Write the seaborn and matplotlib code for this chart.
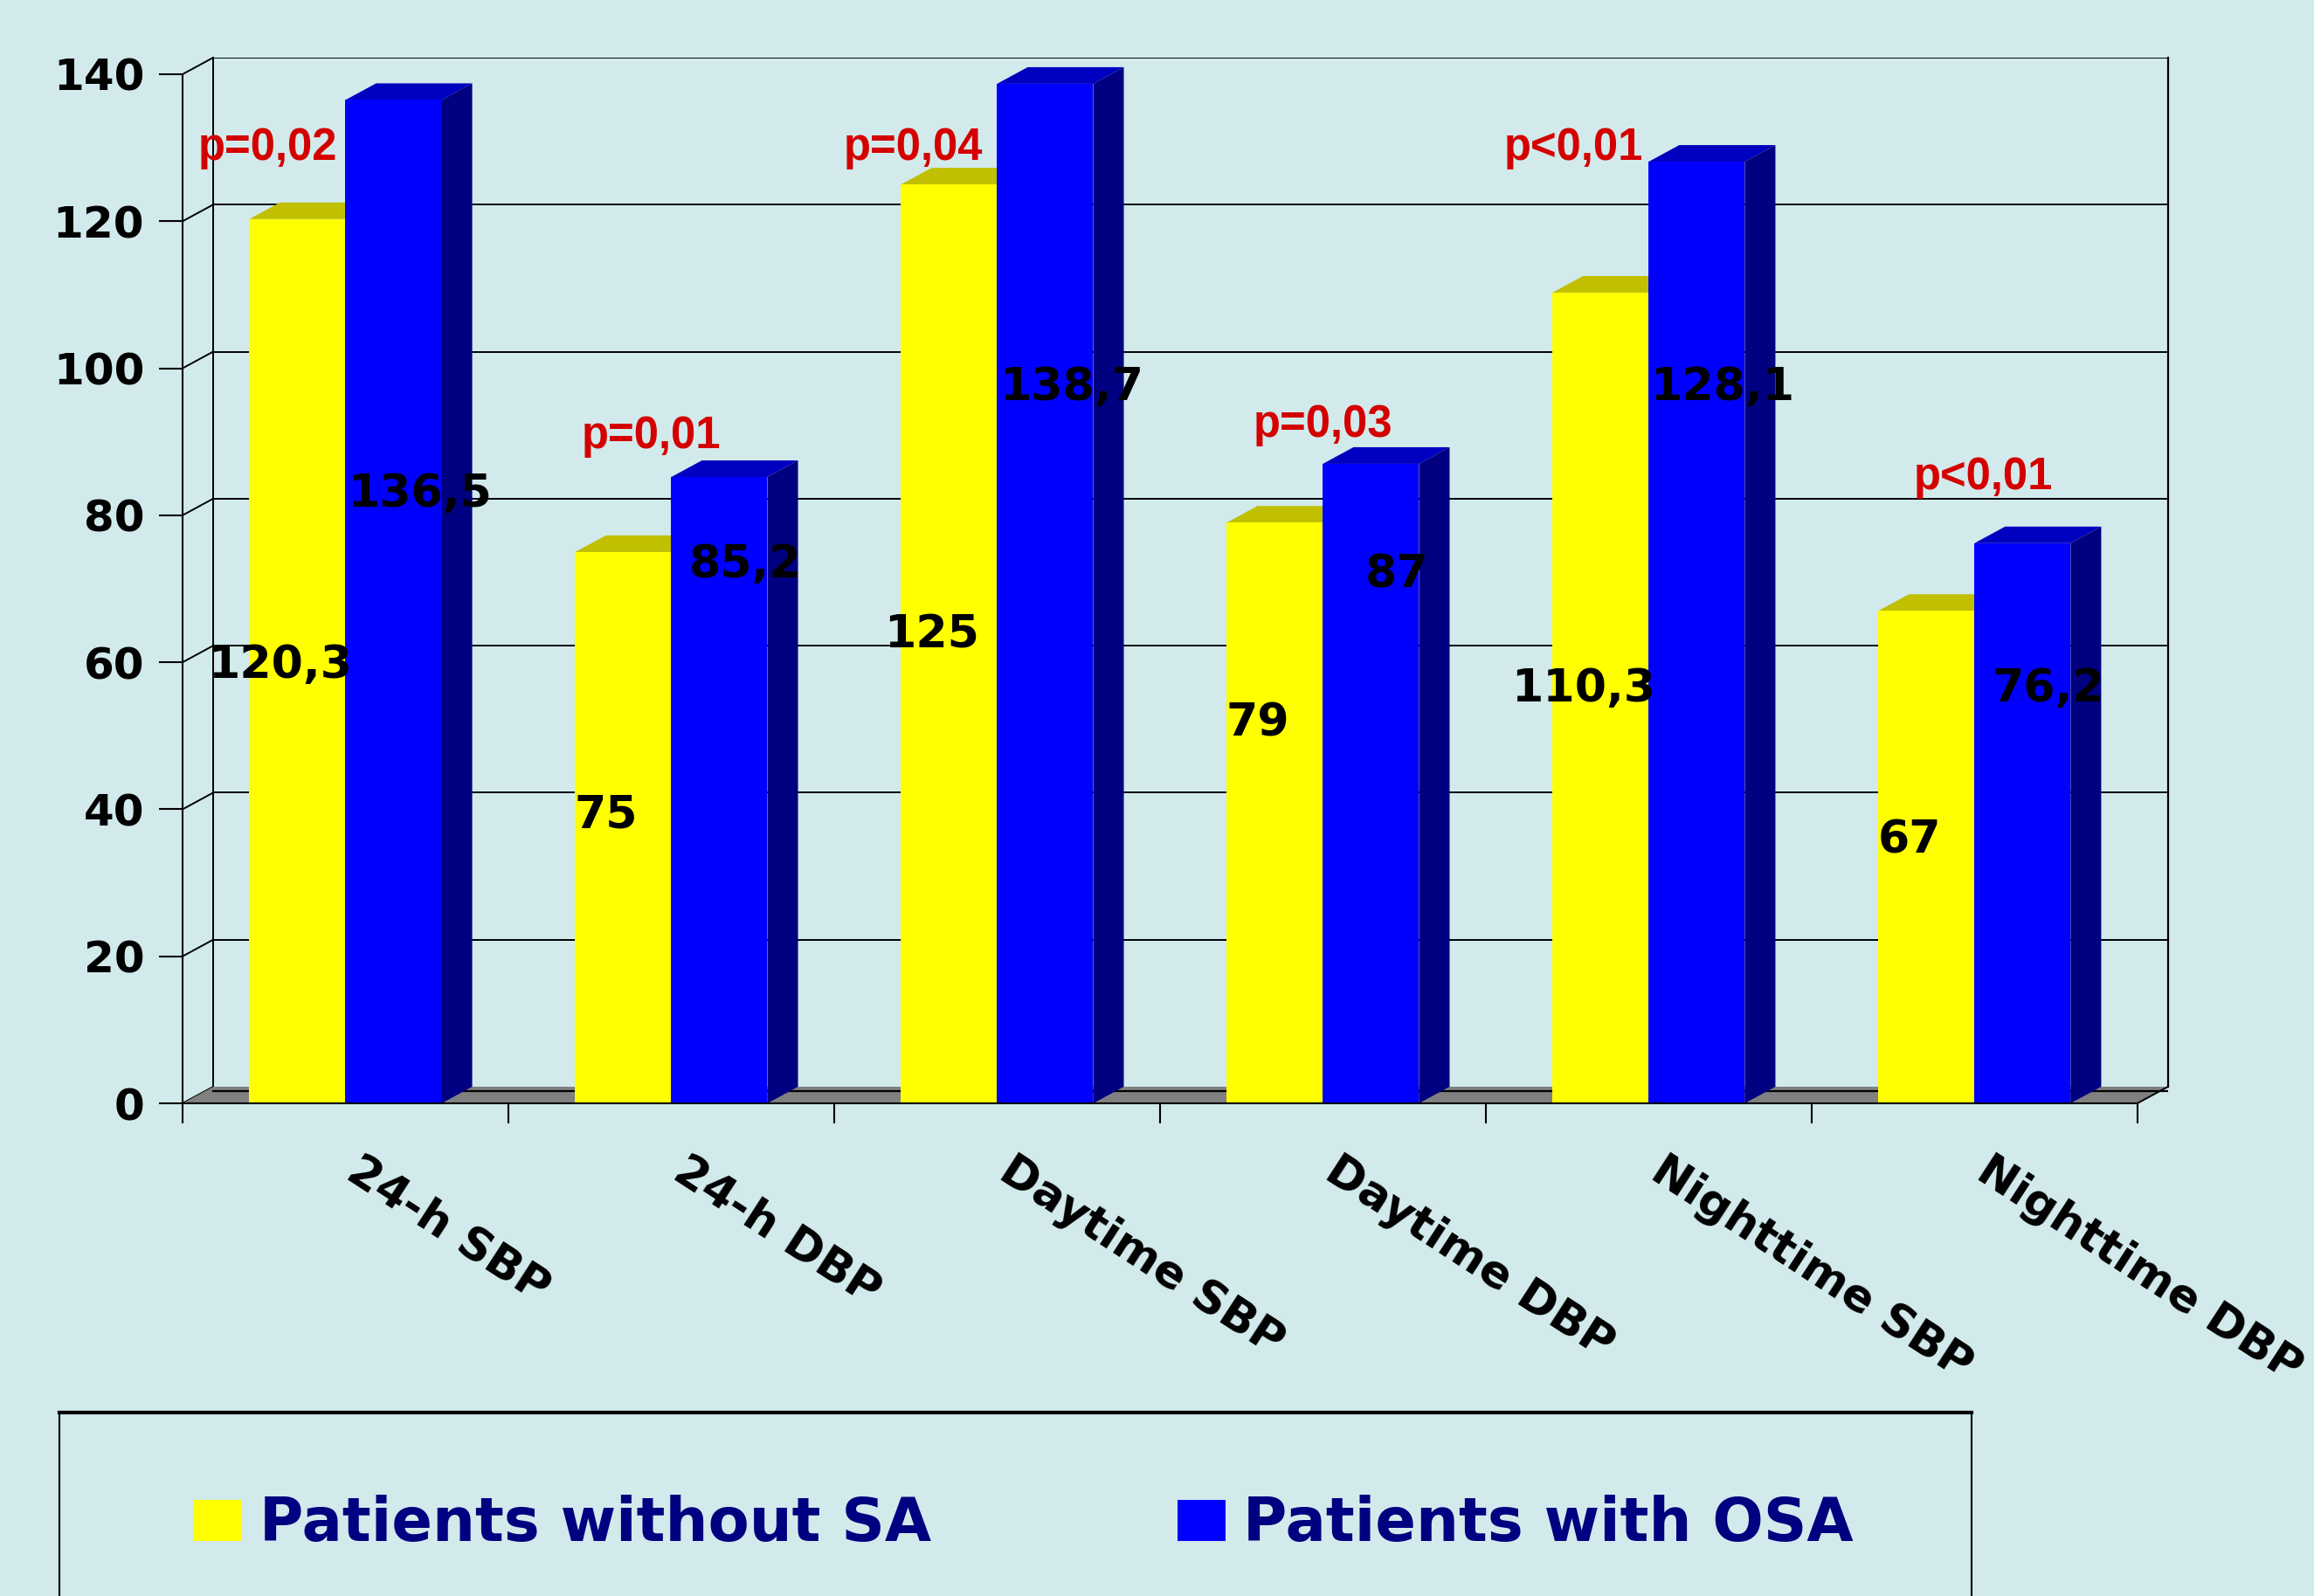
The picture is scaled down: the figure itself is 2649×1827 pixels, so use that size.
import matplotlib
matplotlib.use("Agg")
import matplotlib.pyplot as plt
from matplotlib.patches import Polygon, Rectangle
import seaborn as sns
import numpy as np
import pandas as pd

# Data
categories = ["24-h SBP", "24-h DBP", "Daytime SBP", "Daytime DBP", "Nighttime SBP", "Nighttime DBP"]
no_sa = [120.3, 75, 125, 79, 110.3, 67]
osa = [136.5, 85.2, 138.7, 87, 128.1, 76.2]
p_values = ["p=0,02", "p=0,01", "p=0,04", "p=0,03", "p<0,01", "p<0,01"]
groups = ["Patients without SA", "Patients with OSA"]

# where the labels sit (value units / category units)
no_sa_label_y = [59.5, 39.1, 63.6, 51.6, 56.3, 35.7]
osa_label_y = [82.8, 73.2, 97.3, 71.8, 97.3, 56.3]
p_label_y = [130, 90.7, 130, 92.3, 130, 85.2]
p_label_dx = [-0.24, -0.063, -0.258, 0.0, -0.23, 0.027]

bg = "#d2eaec"
front_colors = {"Patients without SA": "#ffff00", "Patients with OSA": "#0000ff"}
top_colors = ["#c0c000", "#0000c0"]
side_colors = ["#a0a000", "#000080"]

df = pd.DataFrame({
    "Measure": categories * 2,
    "Value": no_sa + osa,
    "Group": [groups[0]] * len(no_sa) + [groups[1]] * len(osa),
})

fig = plt.figure(figsize=(26.49, 18.27), dpi=100, facecolor=bg)
ax = fig.add_axes([0.0789, 0.3087, 0.858, 0.6552])
ax.set_facecolor("none")

sns.barplot(data=df, x="Measure", y="Value", hue="Group", palette=front_colors,
            width=0.59, gap=0, dodge=True, saturation=1, ax=ax, linewidth=0)

handles, labels = ax.get_legend_handles_labels()
if ax.get_legend() is not None:
    ax.get_legend().remove()

# 3D depth offset
dx = 0.094
dy = 2.26
n = len(categories)
xl, xr = -0.5, n - 0.5

ax.set_xlim(xl, xr + dx)
ax.set_ylim(0, 140 + dy)

# back wall gridlines and walls
for v in range(0, 141, 20):
    if v > 0:
        ax.plot([xl + dx, xr + dx], [v + dy, v + dy], color="black", lw=1.4, zorder=0.5)
    ax.plot([xl, xl + dx], [v, v + dy], color="black", lw=1.4, zorder=0.5, clip_on=False)
ax.plot([xl + dx, xl + dx], [dy, 140 + dy], color="black", lw=1.4, zorder=0.5)
ax.plot([xr + dx, xr + dx], [dy, 140 + dy], color="black", lw=1.6, zorder=0.5, clip_on=False)

# floor
ax.add_patch(Polygon([[xl, 0], [xr, 0], [xr + dx, dy], [xl + dx, dy]],
                     closed=True, facecolor="#808080", edgecolor="none", zorder=0.6))
ax.plot([xl + dx, xr + dx], [dy * 0.75, dy * 0.75], color="black", lw=1.6, zorder=0.7)
ax.plot([xr, xr + dx], [0, dy], color="black", lw=1.4, zorder=0.7, clip_on=False)

# top and side faces for the bars
for k, cont in enumerate(ax.containers):
    for bar in cont:
        bar.set_zorder(3)
        x0 = bar.get_x()
        x1 = x0 + bar.get_width()
        h = bar.get_height()
        ax.add_patch(Polygon([[x0, h], [x1, h], [x1 + dx, h + dy], [x0 + dx, h + dy]],
                             closed=True, facecolor=top_colors[k], edgecolor="none", zorder=2))
        ax.add_patch(Polygon([[x1, 0], [x1, h], [x1 + dx, h + dy], [x1 + dx, dy]],
                             closed=True, facecolor=side_colors[k], edgecolor="none", zorder=2))

# axes
for s in ["top", "right"]:
    ax.spines[s].set_visible(False)
ax.spines["left"].set_bounds(0, 140)
ax.spines["bottom"].set_bounds(xl, xr)
ax.spines["left"].set_linewidth(1.5)
ax.spines["bottom"].set_linewidth(1.5)
ax.spines["left"].set_zorder(4)
ax.spines["bottom"].set_zorder(4)

ax.set_yticks(range(0, 141, 20))
ax.set_yticklabels([str(v) for v in range(0, 141, 20)], fontsize=36, fontweight="bold",
                   family="DejaVu Sans")
ax.set_xticks(np.arange(xl, xr + 0.01, 1))
ax.set_xticklabels([])
ax.tick_params(axis="y", length=19.5, width=1.5, pad=12, direction="out")
ax.tick_params(axis="x", length=16.5, width=1.5, direction="out")
ax.set_xlabel("")
ax.set_ylabel("")

# category labels
for i, name in enumerate(categories):
    ax.text(i + 0.055, -6.2, name, rotation=-33, rotation_mode="anchor", ha="left", va="top",
            fontsize=37.5, fontweight="bold", family="DejaVu Sans", clip_on=False)

# value labels
for i in range(n):
    ax.text(i - 0.2, no_sa_label_y[i], f"{no_sa[i]:g}".replace(".", ","), ha="center",
            va="center", fontsize=37.5, fontweight="bold", family="DejaVu Sans", zorder=5)
    ax.text(i + 0.227, osa_label_y[i], f"{osa[i]:g}".replace(".", ","), ha="center",
            va="center", fontsize=37.5, fontweight="bold", family="DejaVu Sans", zorder=5)
    ax.text(i + p_label_dx[i], p_label_y[i], p_values[i], ha="center", va="center",
            fontsize=36.5, fontweight="bold", family="Liberation Sans", color="#d40000",
            zorder=5, clip_on=False)

# legend box and entries
fig.patches.append(Rectangle((0.0257, -0.05), 0.8263, 0.1655, transform=fig.transFigure,
                             facecolor="none", edgecolor="black", lw=1.5, zorder=1))
fig.lines.append(plt.Line2D([0.0257, 0.852], [0.1152, 0.1152], transform=fig.transFigure,
                            color="black", lw=3))
fig.legend(handles, labels, ncol=2, loc="center left", bbox_to_anchor=(0.0705, 0.0449),
           frameon=False, borderpad=0, handlelength=0.8, handleheight=0.66,
           handletextpad=0.3, columnspacing=4.1,
           prop={"family": "DejaVu Sans", "weight": "bold", "size": 49.5},
           labelcolor="#000080")

fig.savefig("out.png", dpi=100, facecolor=bg)
